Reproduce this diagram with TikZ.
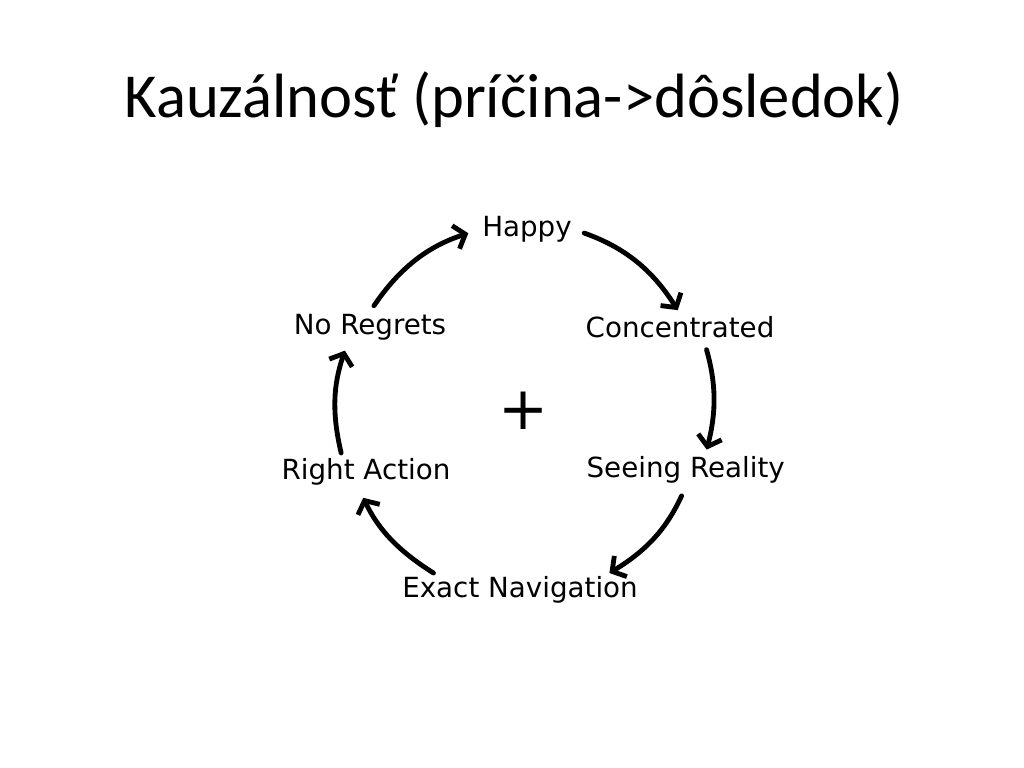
\documentclass[tikz,border=0pt]{standalone}
\usepackage{fontspec}
\setmainfont{Carlito}
\newfontfamily\stagefont{DejaVu Sans}
\usetikzlibrary{arrows.meta}
\tikzset{
stage/.style = {font=\stagefont\fontsize{19.5}{23}\selectfont, inner sep=2pt, anchor=base},
flow/.style = {->, line width=3.4pt, line cap=round},
}

\begin{document}
\begin{tikzpicture}[x=1pt, y=1pt, >={Straight Barb[length=7pt,width=17pt]}]
    \useasboundingbox (-369.1,-251.0) rectangle (350.8,288.9);
    \node [anchor=base, font=\fontsize{44}{53}\selectfont] (title) at (-7.7,206) {Kauzálnosť (príčina->dôsledok)};

    \node [stage] (happy) at (1.4,122.3) {Happy};
    \node [stage] (concentrated) at (109,51.3) {Concentrated};
    \node [stage] (seeing) at (113,-47.1) {Seeing Reality};
    \node [stage] (exact) at (-3.5,-131.5) {Exact Navigation};
    \node [stage] (rightaction) at (-111.8,-48.5) {Right Action};
    \node [stage] (noregrets) at (-109,53.4) {No Regrets};

    \node [font=\stagefont\fontsize{42}{50}\selectfont, inner sep=0pt] (plus) at (-0.7,0) {+};

    \draw [flow, shorten <=5pt, shorten >=8pt] (noregrets.north) to [bend left=19] (happy.west);
    \draw [flow, shorten <=7pt, shorten >=3pt] (happy.east) to [bend left=19] (concentrated.north);
    \draw [flow, shorten <=6pt, shorten >=3pt] ([xshift=17pt]concentrated.south) to [bend left=15] ([xshift=14pt]seeing.north);
    \draw [flow, shorten <=7pt, shorten >=1pt] (seeing.south) to [bend left=17] ([xshift=62pt]exact.north);
    \draw [flow, shorten <=1pt, shorten >=7pt] ([xshift=-60pt]exact.north) to [bend left=16] ([xshift=-5pt]rightaction.south);
    \draw [flow, shorten <=2pt, shorten >=5pt] ([xshift=-17pt]rightaction.north) to [bend left=16] ([xshift=-16pt]noregrets.south);
\end{tikzpicture}
\end{document}
